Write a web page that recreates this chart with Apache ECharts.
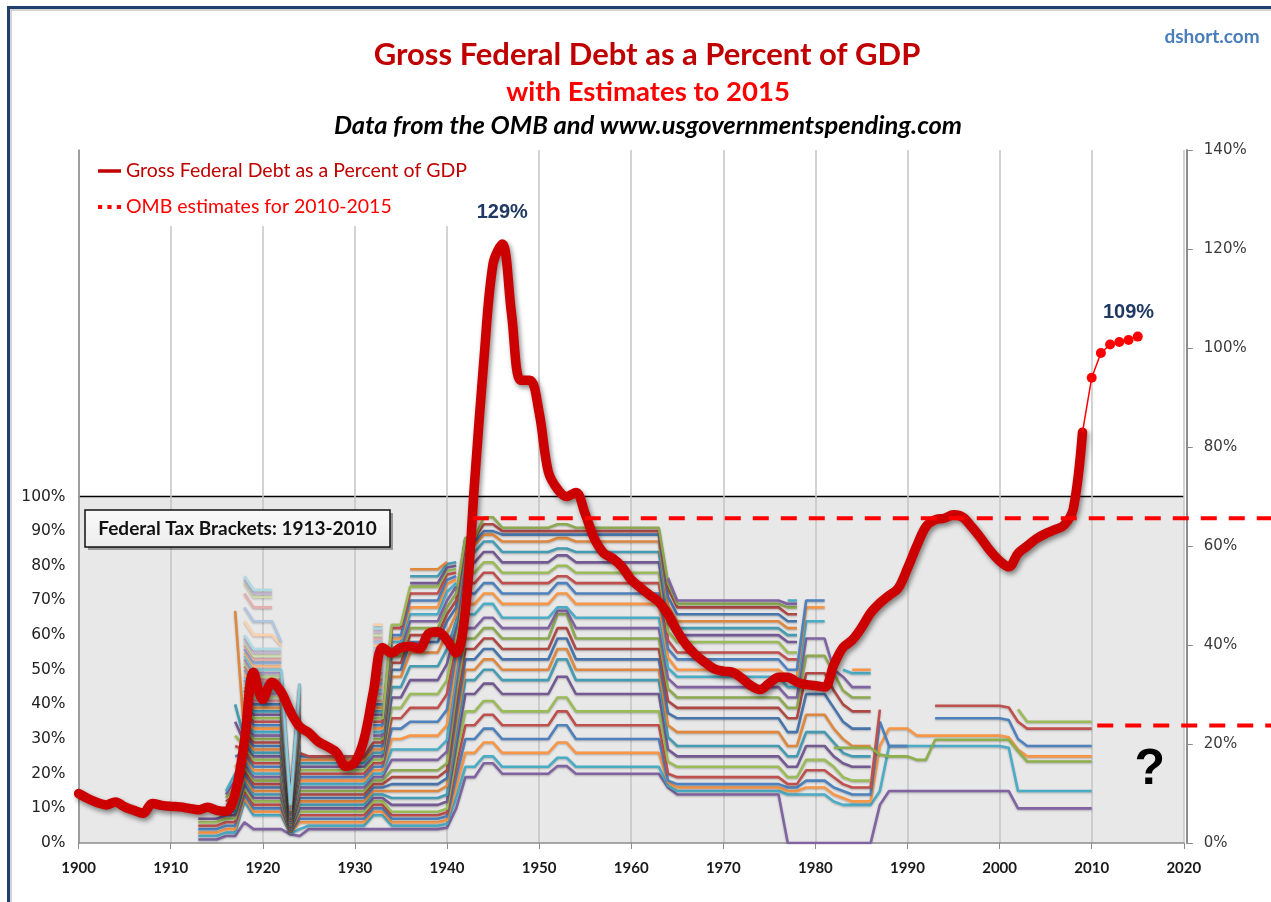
<!DOCTYPE html>
<html><head><meta charset="utf-8">
<script src="https://cdn.jsdelivr.net/npm/echarts/dist/echarts.min.js"></script>
<style>html,body{margin:0;padding:0;background:#fff}#c{width:1271px;height:902px}</style>
</head><body><div id="c"></div>
<script>
// ---------- Gross federal debt (% of GDP) (right axis) ----------
const DEBT_YEARS = [1900,1901,1902,1903,1904,1905,1906,1907,1908,1909,1910,1911,1912,1913,1914,1915,1916,1917,1918,1919,
 1920,1921,1922,1923,1924,1925,1926,1927,1928,1929,1930,1931,1932,1933,1934,1935,1936,1937,1938,1939,
 1940,1941,1942,1943,1944,1945,1946,1947,1948,1949,1950,1951,1952,1953,1954,1955,1956,1957,1958,1959,
 1960,1961,1962,1963,1964,1965,1966,1967,1968,1969,1970,1971,1972,1973,1974,1975,1976,1977,1978,1979,
 1980,1981,1982,1983,1984,1985,1986,1987,1988,1989,1990,1991,1992,1993,1994,1995,1996,1997,1998,1999,
 2000,2001,2002,2003,2004,2005,2006,2007,2008,2009];
const DEBT_PCT = [10.0,9.0,8.2,7.7,8.3,7.3,6.6,6.0,8.0,7.6,7.4,7.3,7.0,6.7,7.2,6.6,6.4,10.0,20.5,34.5,
 29.0,32.5,30.5,26.5,23.5,22.3,20.5,19.5,18.3,15.5,16.3,21.0,30.5,39.5,38.4,39.5,39.7,39.3,42.3,42.7,
 41.0,38.4,47.0,73.0,97.5,117.0,121.0,107.0,93.5,93.5,87.0,75.0,71.5,70.0,70.8,66.5,61.5,58.6,57.5,55.8,
 53.2,51.6,50.1,48.7,46.2,42.8,40.0,38.0,36.5,35.2,34.7,34.5,33.3,31.8,31.0,32.3,33.5,33.5,32.5,32.0,
 31.8,31.5,36.0,39.5,41.0,43.5,46.5,48.5,50.0,51.5,55.5,60.0,63.9,65.3,65.6,66.3,65.8,63.8,61.5,59.0,
 57.0,55.8,58.5,60.0,61.5,62.5,63.3,64.2,67.5,83.0];
// OMB estimates 2010-2015 (joined to the last actual year)
const EST_YEARS = [2009,2010,2011,2012,2013,2014,2015];
const EST_PCT   = [83.0,94.0,99.0,100.7,101.2,101.6,102.3];

// ---------- Federal tax bracket schedules (left axis, %) ----------
const R1913 = [1,2,3,4,5,6,7];
const R1916 = [2,3,4,5,6,7,8,9,10,11,12,13,14,15];
const R1917 = [2,3,4,5,6,7,8,9,10,12,14,16,18,20,22,25,28,31,35,40,67];
const R1918 = [6,12,13,14,15,16,17,18,19,20,21,22,23,24,25,26,27,28,29,30,31,32,33,34,35,36,37,38,39,40,41,42,43,44,45,46,47,48,49,50,51,52,53,54,55,56,57,58,59,60,64,68,72,75,76,77];
const R1919 = [4,8,9,10,11,12,13,14,15,16,17,18,19,20,21,22,23,24,25,26,27,28,29,30,31,32,33,34,35,36,37,38,39,40,41,42,43,44,45,46,47,48,49,50,51,52,53,54,55,56,60,64,68,71,72,73];
const R1922 = [4,8,9,10,11,12,13,14,15,16,17,18,19,20,21,22,23,24,25,26,27,28,29,30,31,32,33,34,35,36,37,38,39,40,41,42,43,44,45,46,47,48,49,50,51,52,53,54,55,56,57,58];
const R1923 = [2.5,2.7,2.9,3.1,3.3,3.5,3.7,3.9,4.1,4.3,4.5,4.7,4.9,5.1,5.3,5.5,5.7,5.9,6.1,6.3,6.5,6.7,6.9,7.1,7.3,7.5,7.7,7.9,8.1,8.3,8.5,8.7,8.9,9.1,9.3,9.5,9.7,9.9,10.1,10.3,10.5,10.7,10.9,11.1];
const R1924 = [2,4,6,7,8,9,10,11,12,13,14,15,16,17,18,19,20,21,22,23,24,25,26,27,28,29,30,31,32,33,34,35,36,37,38,39,40,41,42,43,44,45,46,46];
const R1925 = [4,5,6,7,8,9,10,11,12,13,14,15,16,17,18,19,20,21,22,23,24,25,25];
const R1932 = [4,8,9,10,11,12,13,14,15,16,17,18,19,20,21,22,23,24,25,26,27,28,29,30,31,32,33,34,35,36,37,38,39,40,41,42,43,44,45,46,47,48,49,50,51,52,53,54,55,56,57,58,59,60,61,62,63];
const R1934 = [4,5,6,7,8,9,11,13,15,17,19,21,24,27,30,33,36,39,42,45,48,50,52,54,56,58,59,60,62,63];
const R1936 = [4,5,6,7,8,9,11,13,15,17,19,21,24,27,31,35,39,43,47,51,55,58,60,62,64,66,68,70,72,74,75,77,79];
const R1940 = [4.4,5.5,6.6,7.7,8.8,9.9,12,14,16.5,18.7,21,23,26.4,29.7,34,38.5,43,47,51.7,56,60.5,64,66,68,70,72.5,74.8,76,77.5,78.5,79.5,80.5,81.1];
const R1941 = [10,13,16,19,22,25,28,31,34,37,40,43,46,49,52,55,58,60,62,64,66,68,70,72,74,75,76,77,78,79,80,81];
const R1942 = [19,22,26,30,34,38,43,47,50,53,56,59,62,66,69,72,75,78,81,84,86,87,88,88];
const R1944 = [23,25,29,33,37,41,46,50,53,56,59,62,65,69,72,75,78,81,84,87,89,90,92,94];
const R1946 = [20,22,26,30,34,38,43,47,50,53,56,59,62,65,69,72,75,78,81,84,87,89,90,91];
const R1952 = [22.2,24.6,29,34,38,42,48,53,56,59,62,66,67,68,72,75,77,80,83,85,88,89,90,92];
const R1964 = [16,16.5,17.5,18,20,23.5,27,30.5,34,37.5,41,44.5,47.5,50.5,53.5,56,58.5,61,63.5,66,68.5,71,73.5,75,76.5,77];
const R1965 = [14,15,16,17,19,22,25,28,32,36,39,42,45,48,50,53,55,58,60,62,64,66,68,69,70];
const R1977 = [0,14,15,16,17,19,22,25,28,32,36,39,42,45,48,50,53,55,58,60,62,64,66,68,69,70];
const R1979 = [0,14,16,18,21,24,28,32,37,43,49,54,59,64,68,70];
const R1982 = [0,12,14,16,19,22,25,29,33,39,44,49,50];
const R1983 = [0,11,13,15,17,19,23,26,30,35,40,44,48,50];
const R1984 = [0,11,12,14,16,18,22,25,28,33,38,42,45,49,50];
const R1987 = [11,15,28,35,38.5];
const R1988 = [15,28,33,28];
const R1991 = [15,28,31];
const R1993 = [15,28,31,36,39.6];
const R2001 = [15,27.5,30.5,35.5,39.1];
const R2002 = [10,15,27,30,35,38.6];
const R2003 = [10,15,25,28,33,35];
const TAX_PERIODS = [[1913,1915,R1913],[1916,1916,R1916],[1917,1917,R1917],[1918,1918,R1918],[1919,1921,R1919],
 [1922,1922,R1922],[1923,1923,R1923],[1924,1924,R1924],[1925,1931,R1925],[1932,1933,R1932],[1934,1935,R1934],
 [1936,1939,R1936],[1940,1940,R1940],[1941,1941,R1941],[1942,1943,R1942],[1944,1945,R1944],[1946,1951,R1946],
 [1952,1953,R1952],[1954,1963,R1946],[1964,1964,R1964],[1965,1976,R1965],[1977,1978,R1977],[1979,1981,R1979],
 [1982,1982,R1982],[1983,1983,R1983],[1984,1986,R1984],[1987,1987,R1987],[1988,1990,R1988],[1991,1992,R1991],
 [1993,2000,R1993],[2001,2001,R2001],[2002,2002,R2002],[2003,2010,R2003]];
// one extra green line visible 1982-2010
const EXTRA_PERIODS = [[1982,1986,27.5],[1987,1987,25.5],[1988,1990,25],[1991,1992,24],[1993,2001,29.8],[2002,2002,26.5],[2003,2010,23.5]];

// annotation values
const PANEL = [[1900,100],[2020,100]];          // grey "tax bracket" panel, 0-100% on left axis
const DASH_HIGH = {from: 1942.8, y: 93.7};       // left-axis %
const DASH_LOW  = {from: 2010.6, y: 33.9};
const QMARK = {x: 2016.3, y: 21};
const X_TICKS = [1900,2020,10];

// ---------- build ----------
const BASE = ['#4F81BD','#C0504D','#9BBB59','#8064A2','#4BACC6','#F79646'];
function mix(hex, t, toWhite){
  const n = parseInt(hex.slice(1),16); let r=n>>16, g=(n>>8)&255, b=n&255;
  if (toWhite){ r=r+(255-r)*t; g=g+(255-g)*t; b=b+(255-b)*t; } else { r*=1-t; g*=1-t; b*=1-t; }
  return 'rgb('+Math.round(r)+','+Math.round(g)+','+Math.round(b)+')';
}
function bracketColor(s){
  const base = BASE[(s+3)%6];
  if (s >= 46) return mix(base, 0.55, true);
  if (s >= 34) return mix(base, 0.35, true);
  return (Math.floor(s/6)%2) ? mix(base, 0.1, false) : base;
}
const lineSt = c => ({color:c, width:2.6, shadowColor:'rgba(0,0,0,0.25)', shadowBlur:2, shadowOffsetY:1});
let maxN = 0; TAX_PERIODS.forEach(p => maxN = Math.max(maxN, p[2].length));
const taxSeries = [];
for (let s = 0; s < maxN; s++){
  const data = [];
  TAX_PERIODS.forEach(([a,b,r]) => { for (let y=a; y<=b; y++) data.push([y, r[s] === undefined ? null : r[s]]); });
  taxSeries.push({type:'line', name:'bracket'+s, yAxisIndex:0, data, showSymbol:false, symbol:'none',
    silent:true, z:3, lineStyle:lineSt(bracketColor(s))});
}
const extraData = [];
EXTRA_PERIODS.forEach(([a,b,v]) => { for (let y=a; y<=b; y++) extraData.push([y, v]); });
taxSeries.push({type:'line', name:'bracketX', yAxisIndex:0, data:extraData, showSymbol:false, symbol:'none', silent:true, z:3, lineStyle:lineSt('#8DAF4C')});

const DEBT_NAME = 'Gross Federal Debt as a Percent of GDP';
const EST_NAME = 'OMB estimates for 2010-2015';

const chart = echarts.init(document.getElementById('c'), null, {renderer:'canvas'});
const option = {
  animation:false,
  backgroundColor:'#fff',
  grid:{left:78.6, right:87.2, top:150, bottom:59, containLabel:false},
  legend:{
    orient:'vertical', left:80, top:150, padding:[11,12,9,18], itemGap:16, backgroundColor:'#fff',
    itemWidth:23, itemHeight:10, selectedMode:false,
    textStyle:{fontFamily:'Lato', fontSize:19.5},
    data:[
      {name:DEBT_NAME, icon:'path://M0,0 L23,0 L23,3.5 L0,3.5 Z', itemStyle:{color:'#C00000'}, textStyle:{color:'#C00000', fontFamily:'Lato', fontSize:19.5}},
      {name:EST_NAME, icon:'path://M0,0 h4 v4 h-4 Z M9,0 h4 v4 h-4 Z M18,0 h4 v4 h-4 Z', itemStyle:{color:'#FF0000'}, textStyle:{color:'#FF0000', fontFamily:'Lato', fontSize:19.5}}
    ]
  },
  xAxis:{
    type:'value', min:X_TICKS[0], max:X_TICKS[1], interval:X_TICKS[2], z:1,
    axisLine:{show:true, onZero:false, lineStyle:{color:'#8c8c8c', width:1.5}},
    axisTick:{show:true, length:6, lineStyle:{color:'#8c8c8c'}},
    axisLabel:{margin:18, color:'#1a1a1a', fontFamily:'Lato', fontWeight:'bold', fontSize:15, formatter:v=>String(v)},
    splitLine:{show:true, lineStyle:{color:'#c4c4c4', width:1.5}}
  },
  yAxis:[
    {type:'value', min:0, max:200, interval:10, position:'left', z:1,
     axisLine:{show:true, lineStyle:{color:'#8c8c8c', width:1.5}}, axisTick:{show:false},
     axisLabel:{margin:13, color:'#222', fontFamily:'DejaVu Sans', fontSize:15.5, formatter:v=> v<=100 ? v+'%' : ''},
     splitLine:{show:false}},
    {type:'value', min:0, max:140, interval:20, position:'right', offset:3, z:1,
     axisLine:{show:true, lineStyle:{color:'#8c8c8c', width:2}}, axisTick:{show:true, inside:false, length:6, lineStyle:{color:'#8c8c8c'}},
     axisLabel:{margin:17, color:'#3a3a3a', fontFamily:'DejaVu Sans', fontSize:15, formatter:'{value}%'},
     splitLine:{show:false}}
  ],
  series:[
    {type:'line', name:'panel', yAxisIndex:0, data:PANEL, symbol:'none', silent:true, z:0,
     lineStyle:{color:'#000', width:1.5}, areaStyle:{color:'#e8e8e8', opacity:1}},
    ...taxSeries,
    {type:'line', name:DEBT_NAME, yAxisIndex:1, z:10, smooth:0.35, symbol:'none', silent:true,
     data: DEBT_YEARS.map((y,i)=>[y, DEBT_PCT[i]]),
     lineStyle:{color:'#CC0000', width:9.5, cap:'round', join:'round', shadowColor:'rgba(0,0,0,0.45)', shadowBlur:5, shadowOffsetX:2, shadowOffsetY:3},
     itemStyle:{color:'#C00000'},
     markPoint:{symbol:'circle', symbolSize:0, silent:true,
       data:[{coord:[1946,121], value:'129%', label:{show:true, position:'top', distance:22, formatter:'129%', color:'#1F3864', fontFamily:'Liberation Sans', fontWeight:'bold', fontSize:20}}]}
    },
    {type:'line', name:EST_NAME, yAxisIndex:1, z:11, symbol:'circle', symbolSize:10, silent:true,
     data: EST_YEARS.map((y,i)=> i===0 ? {value:[y, EST_PCT[i]], symbol:'none'} : [y, EST_PCT[i]]),
     lineStyle:{color:'#FF0000', width:1.5}, itemStyle:{color:'#FF0000'},
     markPoint:{symbol:'circle', symbolSize:0, silent:true,
       data:[{coord:[2014,101.6], value:'109%', label:{show:true, position:'top', distance:18, formatter:'109%', color:'#1F3864', fontFamily:'Liberation Sans', fontWeight:'bold', fontSize:20}}]}
    }
  ]
};
chart.setOption(option);

const L = (x,y) => chart.convertToPixel({seriesIndex:0}, [x,y]);
const hi = L(DASH_HIGH.from, DASH_HIGH.y), lo = L(DASH_LOW.from, DASH_LOW.y), q = L(QMARK.x, QMARK.y);
const dashStyle = {stroke:'#FF0000', lineWidth:4, lineDash:[16,12]};
chart.setOption({graphic:[
  {type:'rect', z:100, silent:true, shape:{x:8.5, y:7.5, width:1400, height:1000}, style:{fill:'none', stroke:'#1F3F6E', lineWidth:3}},
  {type:'rect', z:100, silent:true, shape:{x:11, y:10, width:1400, height:1000}, style:{fill:'none', stroke:'#C8C8C8', lineWidth:1.5}},
  {type:'text', z:100, x:647, y:55, style:{text:'Gross Federal Debt as a Percent of GDP', fill:'#C00000', font:'bold 31px Lato', textAlign:'center', textVerticalAlign:'middle'}},
  {type:'text', z:100, x:648, y:92, style:{text:'with Estimates to 2015', fill:'#FF0000', font:'bold 27.5px Lato', textAlign:'center', textVerticalAlign:'middle'}},
  {type:'text', z:100, x:648, y:126, style:{text:'Data from the OMB and www.usgovernmentspending.com', fill:'#000', font:'italic bold 25.5px Lato', textAlign:'center', textVerticalAlign:'middle'}},
  {type:'text', z:100, x:1212, y:37, style:{text:'dshort.com', fill:'#4A7EBB', font:'bold 19px Lato', textAlign:'center', textVerticalAlign:'middle'}},
  {type:'rect', z:50, silent:true, shape:{x:88, y:513, width:305, height:37}, style:{fill:'rgba(0,0,0,0.35)'}},
  {type:'rect', z:51, silent:true, shape:{x:85, y:510, width:305, height:37}, style:{fill:{type:'linear',x:0,y:0,x2:0,y2:1,colorStops:[{offset:0,color:'#fafafa'},{offset:1,color:'#ececec'}]}, stroke:'#111', lineWidth:1.5}},
  {type:'text', z:52, x:237.5, y:528.5, style:{text:'Federal Tax Brackets: 1913-2010', fill:'#111', font:'bold 19px Lato', textAlign:'center', textVerticalAlign:'middle'}},
  {type:'line', z:60, silent:true, shape:{x1:hi[0], y1:hi[1], x2:1271, y2:hi[1]}, style:dashStyle},
  {type:'line', z:60, silent:true, shape:{x1:lo[0], y1:lo[1], x2:1271, y2:lo[1]}, style:dashStyle},
  {type:'text', z:60, x:q[0], y:q[1], style:{text:'?', fill:'#000', font:'bold 50px "Liberation Sans"', textAlign:'center', textVerticalAlign:'middle'}}
]});
</script>
</body></html>
